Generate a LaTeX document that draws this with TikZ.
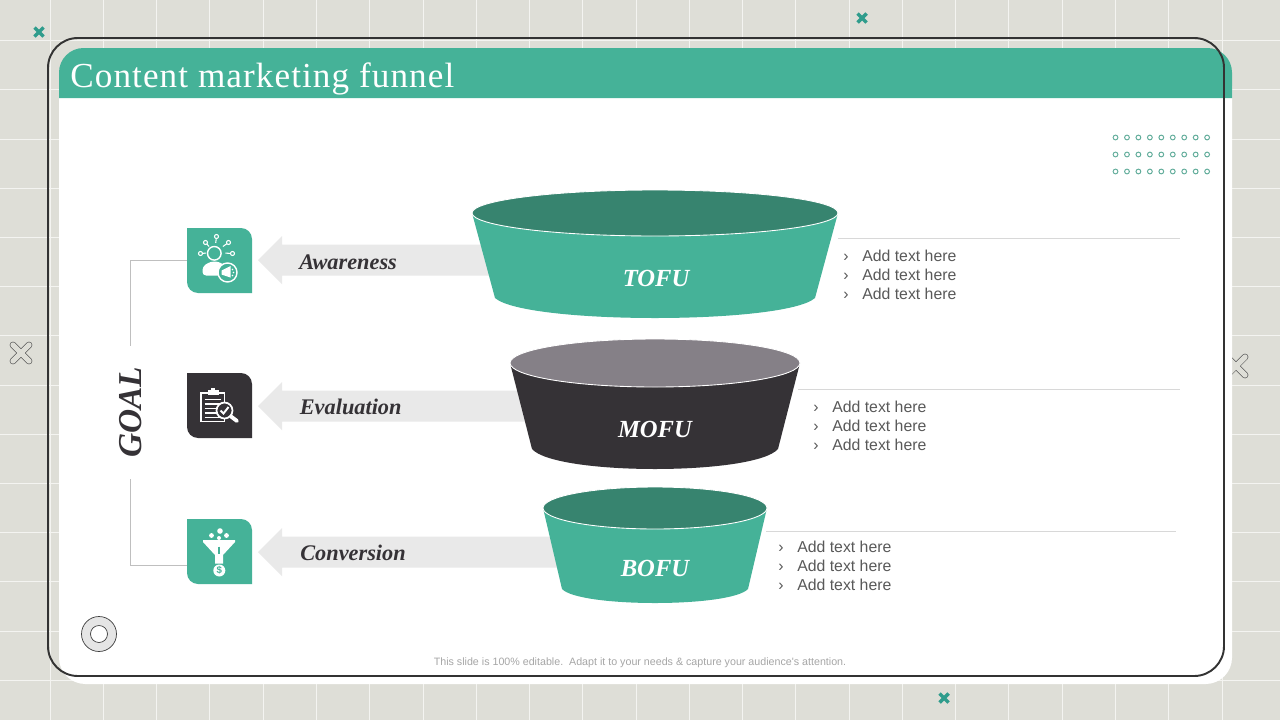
\documentclass[tikz,border=0pt]{standalone}
\usepackage{fontspec}
\setmainfont{Liberation Serif}
\newfontfamily\bodyfont{Liberation Sans}
\usetikzlibrary{positioning,calc}
\definecolor{pagegray}{HTML}{DEDED7}
\definecolor{teal}{HTML}{45B298}
\definecolor{tealdark}{HTML}{37846F}
\definecolor{inkdark}{HTML}{353236}
\definecolor{mauve}{HTML}{858087}
\definecolor{arrowgray}{HTML}{E9E9E9}
\definecolor{rulegray}{HTML}{D8D8D8}
\definecolor{crossteal}{HTML}{2F9C8C}
\definecolor{dotteal}{HTML}{62AD9B}
\tikzset{
  stagelabel/.style={font=\fontsize{12.7}{15}\selectfont\bfseries\itshape,text=inkdark,anchor=west,inner sep=0pt},
  funnellabel/.style={font=\fontsize{14}{16}\selectfont\bfseries\itshape,text=white,inner sep=0pt},
  addtext/.style={font=\bodyfont\fontsize{9}{10.8}\selectfont,text=black!65,anchor=west,inner sep=0pt,align=left},
  iconspot/.style={minimum size=1.3cm,inner sep=0pt},
  thinrule/.style={draw=rulegray,line width=0.45pt},
  goalwire/.style={draw=black!25,line width=0.4pt}
}
% one funnel: centre x, top y, half width, rim height, side x, side y, bottom y
\newcommand{\funnelbody}[9]{
  \fill[#8] (#1-#3,#2) -- (#1-#5,#6) .. controls ({#1-0.81*#5},{(4*#7-#6)/3}) and ({#1+0.81*#5},{(4*#7-#6)/3}) .. (#1+#5,#6) -- (#1+#3,#2) -- cycle;
  \fill[#9,draw=white,line width=0.5pt] (#1,#2) ellipse ({#3} and {#4});
}
% square with two round corners
\newcommand{\iconback}[2]{
  \fill[#2,shift={(#1.center)}] (-32.5,-32.5) -- (21.5,-32.5) .. controls (27.5,-32.5) and (32.5,-27.5) .. (32.5,-21.5) -- (32.5,32.5) -- (-21.5,32.5) .. controls (-27.5,32.5) and (-32.5,27.5) .. (-32.5,21.5) -- cycle;
}
\newcommand{\plaincross}[2]{
  \draw[crossteal,line width=2pt] (#1-4.5,#2-4.5) -- (#1+4.5,#2+4.5) (#1-4.5,#2+4.5) -- (#1+4.5,#2-4.5);
}
\newcommand{\hollowcross}[3]{
  \draw[black!65,line width=3.8pt,line cap=round] (#1-#3,#2-#3) -- (#1+#3,#2+#3) (#1-#3,#2+#3) -- (#1+#3,#2-#3);
  \draw[pagegray,line width=3pt,line cap=round] (#1-#3,#2-#3) -- (#1+#3,#2+#3) (#1-#3,#2+#3) -- (#1+#3,#2-#3);
}
\begin{document}
\begin{tikzpicture}[x=0.02cm,y=-0.02cm]
  \useasboundingbox (0,0) rectangle (1280,720);
  \fill[pagegray] (0,0) rectangle (1280,720);
  \foreach \i in {0,...,23} {
    \draw[white!65!pagegray,line width=0.45pt] ({50+53.27*\i-53.27},0) -- ({50+53.27*\i-53.27},720);
  }
  \foreach \i in {0,...,14} {
    \draw[white!65!pagegray,line width=0.45pt] (0,{40.5+49.2*\i}) -- (1280,{40.5+49.2*\i});
  }
  \plaincross{39}{32}
  \plaincross{862}{18}
  \plaincross{944}{698}
  \hollowcross{21}{353}{8}
  \hollowcross{1236}{366}{9}
  % white card and header
  \fill[white,rounded corners=15pt] (59,60) -- (59,684) -- (1232,684) -- (1232,60) -- cycle;
  \fill[teal,rounded corners=14pt] (59,98) -- (59,48) -- (1232,48) [sharp corners] -- (1232,98) -- cycle;
  \draw[black!80,line width=1.1pt,rounded corners=17pt] (48,38) rectangle (1224,676);
  \node[anchor=base west,inner sep=0pt,text=white,font=\fontsize{20}{24}\selectfont\addfontfeature{LetterSpace=3.1}] (title) at (70,87) {Content marketing funnel};
  \foreach \row in {137.5,154.5,171.5} {
    \foreach \i in {0,...,8} {
      \draw[dotteal,line width=0.55pt] ({1115.5+11.45*\i},\row) circle (2.4);
    }
  }
  % arrows behind the funnels
  \foreach \ymid in {260,406,552} {
    \fill[arrowgray] (258,\ymid) -- (282,\ymid-24) -- (282,\ymid-15.5) -- (560,\ymid-15.5) -- (560,\ymid+15.5) -- (282,\ymid+15.5) -- (282,\ymid+24) -- cycle;
  }
  \draw[thinrule] (838,238) -- (1180,238);
  \draw[thinrule] (798,389) -- (1180,389);
  \draw[thinrule] (766,531) -- (1176,531);
  \funnelbody{655}{213}{183}{23}{160}{298}{318}{teal}{tealdark}
  \funnelbody{655}{363}{145}{24}{123}{449}{469}{inkdark}{mauve}
  \funnelbody{655}{508}{112}{21}{93}{589}{603}{teal}{tealdark}
  \node[funnellabel] (tofu) at (656,278) {TOFU};
  \node[funnellabel] (mofu) at (655,429) {MOFU};
  \node[funnellabel] (bofu) at (655,568) {BOFU};
  \node[stagelabel] (awareness) at (299,262) {Awareness};
  \node[stagelabel] (evaluation) at (299.5,407) {Evaluation};
  \node[stagelabel] (conversion) at (300,553) {Conversion};
  \node[addtext] (textA) at (843,275.3) {›\hspace{7.8pt}Add text here\\›\hspace{7.8pt}Add text here\\›\hspace{7.8pt}Add text here};
  \node[addtext] (textB) at (813,426.3) {›\hspace{7.8pt}Add text here\\›\hspace{7.8pt}Add text here\\›\hspace{7.8pt}Add text here};
  \node[addtext] (textC) at (778,566.3) {›\hspace{7.8pt}Add text here\\›\hspace{7.8pt}Add text here\\›\hspace{7.8pt}Add text here};
  % goal column
  \node[rotate=90,inner xsep=12pt,inner ysep=0pt,text=inkdark,font=\fontsize{19}{21}\selectfont\bfseries\itshape] (goal) at (130.5,412.5) {GOAL};
  \node[iconspot] (iconA) at (219.5,260.5) {};
  \node[iconspot] (iconB) at (219.5,405.5) {};
  \node[iconspot] (iconC) at (219.5,551.5) {};
  \coordinate (wireC) at ($(iconC.west)+(0,13.5)$);
  \draw[goalwire] (iconA.west) -| (goal.east);
  \draw[goalwire] (wireC) -| (goal.west);
  \iconback{iconA}{teal}
  \iconback{iconB}{inkdark}
  \iconback{iconC}{teal}
  % awareness icon
  \begin{scope}[shift={(iconA.center)}]
    \draw[white,line width=0.8pt] (-5.2,-7.2) circle (6.8);
    \fill[white,rounded corners=2pt] (-17,15) -- (-17,6) -- (-9,1) -- (-1,1) -- (7,6) -- (7,15) -- cycle;
    \foreach \dx/\dy in {-19/-7,-14/-18,-3/-24,9/-18,13/-7} {
      \draw[white,line width=0.6pt] ($(-5,-8)!0.6!(\dx,\dy)$) -- (\dx,\dy);
      \draw[teal,fill=teal,draw=white,line width=0.6pt] (\dx,\dy) circle (2);
    }
    \fill[teal,draw=white,line width=0.8pt] (8,12) circle (9.5);
    \fill[white] (2,10) -- (11,5.5) -- (11,17) -- (2,14) -- cycle;
    \fill[white] (13,9) circle (0.8) (14,12) circle (0.8) (13,15) circle (0.8);
  \end{scope}
  % evaluation icon
  \begin{scope}[shift={(iconB.center)}]
    \draw[white,line width=1pt] (-18.5,-12.5) rectangle (5,16);
    \fill[white] (-12,-15.5) rectangle (-1,-10.5);
    \fill[white] (-8.5,-18) rectangle (-4.5,-14);
    \foreach \dy in {-6,-1.5,3,7.5,12} {
      \draw[white,line width=1pt] (-15,\dy) -- (1,\dy);
    }
    \fill[inkdark,draw=white,line width=1pt] (5,5) circle (8);
    \draw[white,line width=1.1pt] (1,5) -- (4,8) -- (9,1.5);
    \draw[white,line width=2.2pt,line cap=round] (11.5,11) -- (17.5,15.5);
  \end{scope}
  % conversion icon
  \begin{scope}[shift={(iconC.center)}]
    \fill[white] (0.5,-20.5) circle (2.8) (-8,-16) circle (2.4) (7,-16) circle (2.4) (-0.5,-13.5) circle (2);
    \fill[white] (-16.5,-11.5) -- (15.5,-11.5) -- (15.5,-9.5) -- (3.5,3.5) -- (3.5,12) -- (-4.5,12) -- (-4.5,3.5) -- (-16.5,-9.5) -- cycle;
    \draw[teal,line width=0.7pt] (-0.5,-5) -- (-0.5,2);
    \fill[white] (-0.2,19) circle (6);
    \node[text=teal,inner sep=0pt,font=\bodyfont\fontsize{5.5}{6}\selectfont\bfseries] (dollar) at (-0.2,19) {\$};
  \end{scope}
  % ring bottom left
  \fill[black!10,draw=black!75,line width=0.4pt] (99,634) circle (17.5);
  \fill[white,draw=black!75,line width=0.4pt] (99,634) circle (8.5);
  \node[text=black!35,font=\bodyfont\fontsize{6.08}{7}\selectfont,inner sep=0pt] (footer) at (640,662.5) {This slide is 100\% editable.\ \ Adapt it to your needs \& capture your audience's attention.};
\end{tikzpicture}
\end{document}
